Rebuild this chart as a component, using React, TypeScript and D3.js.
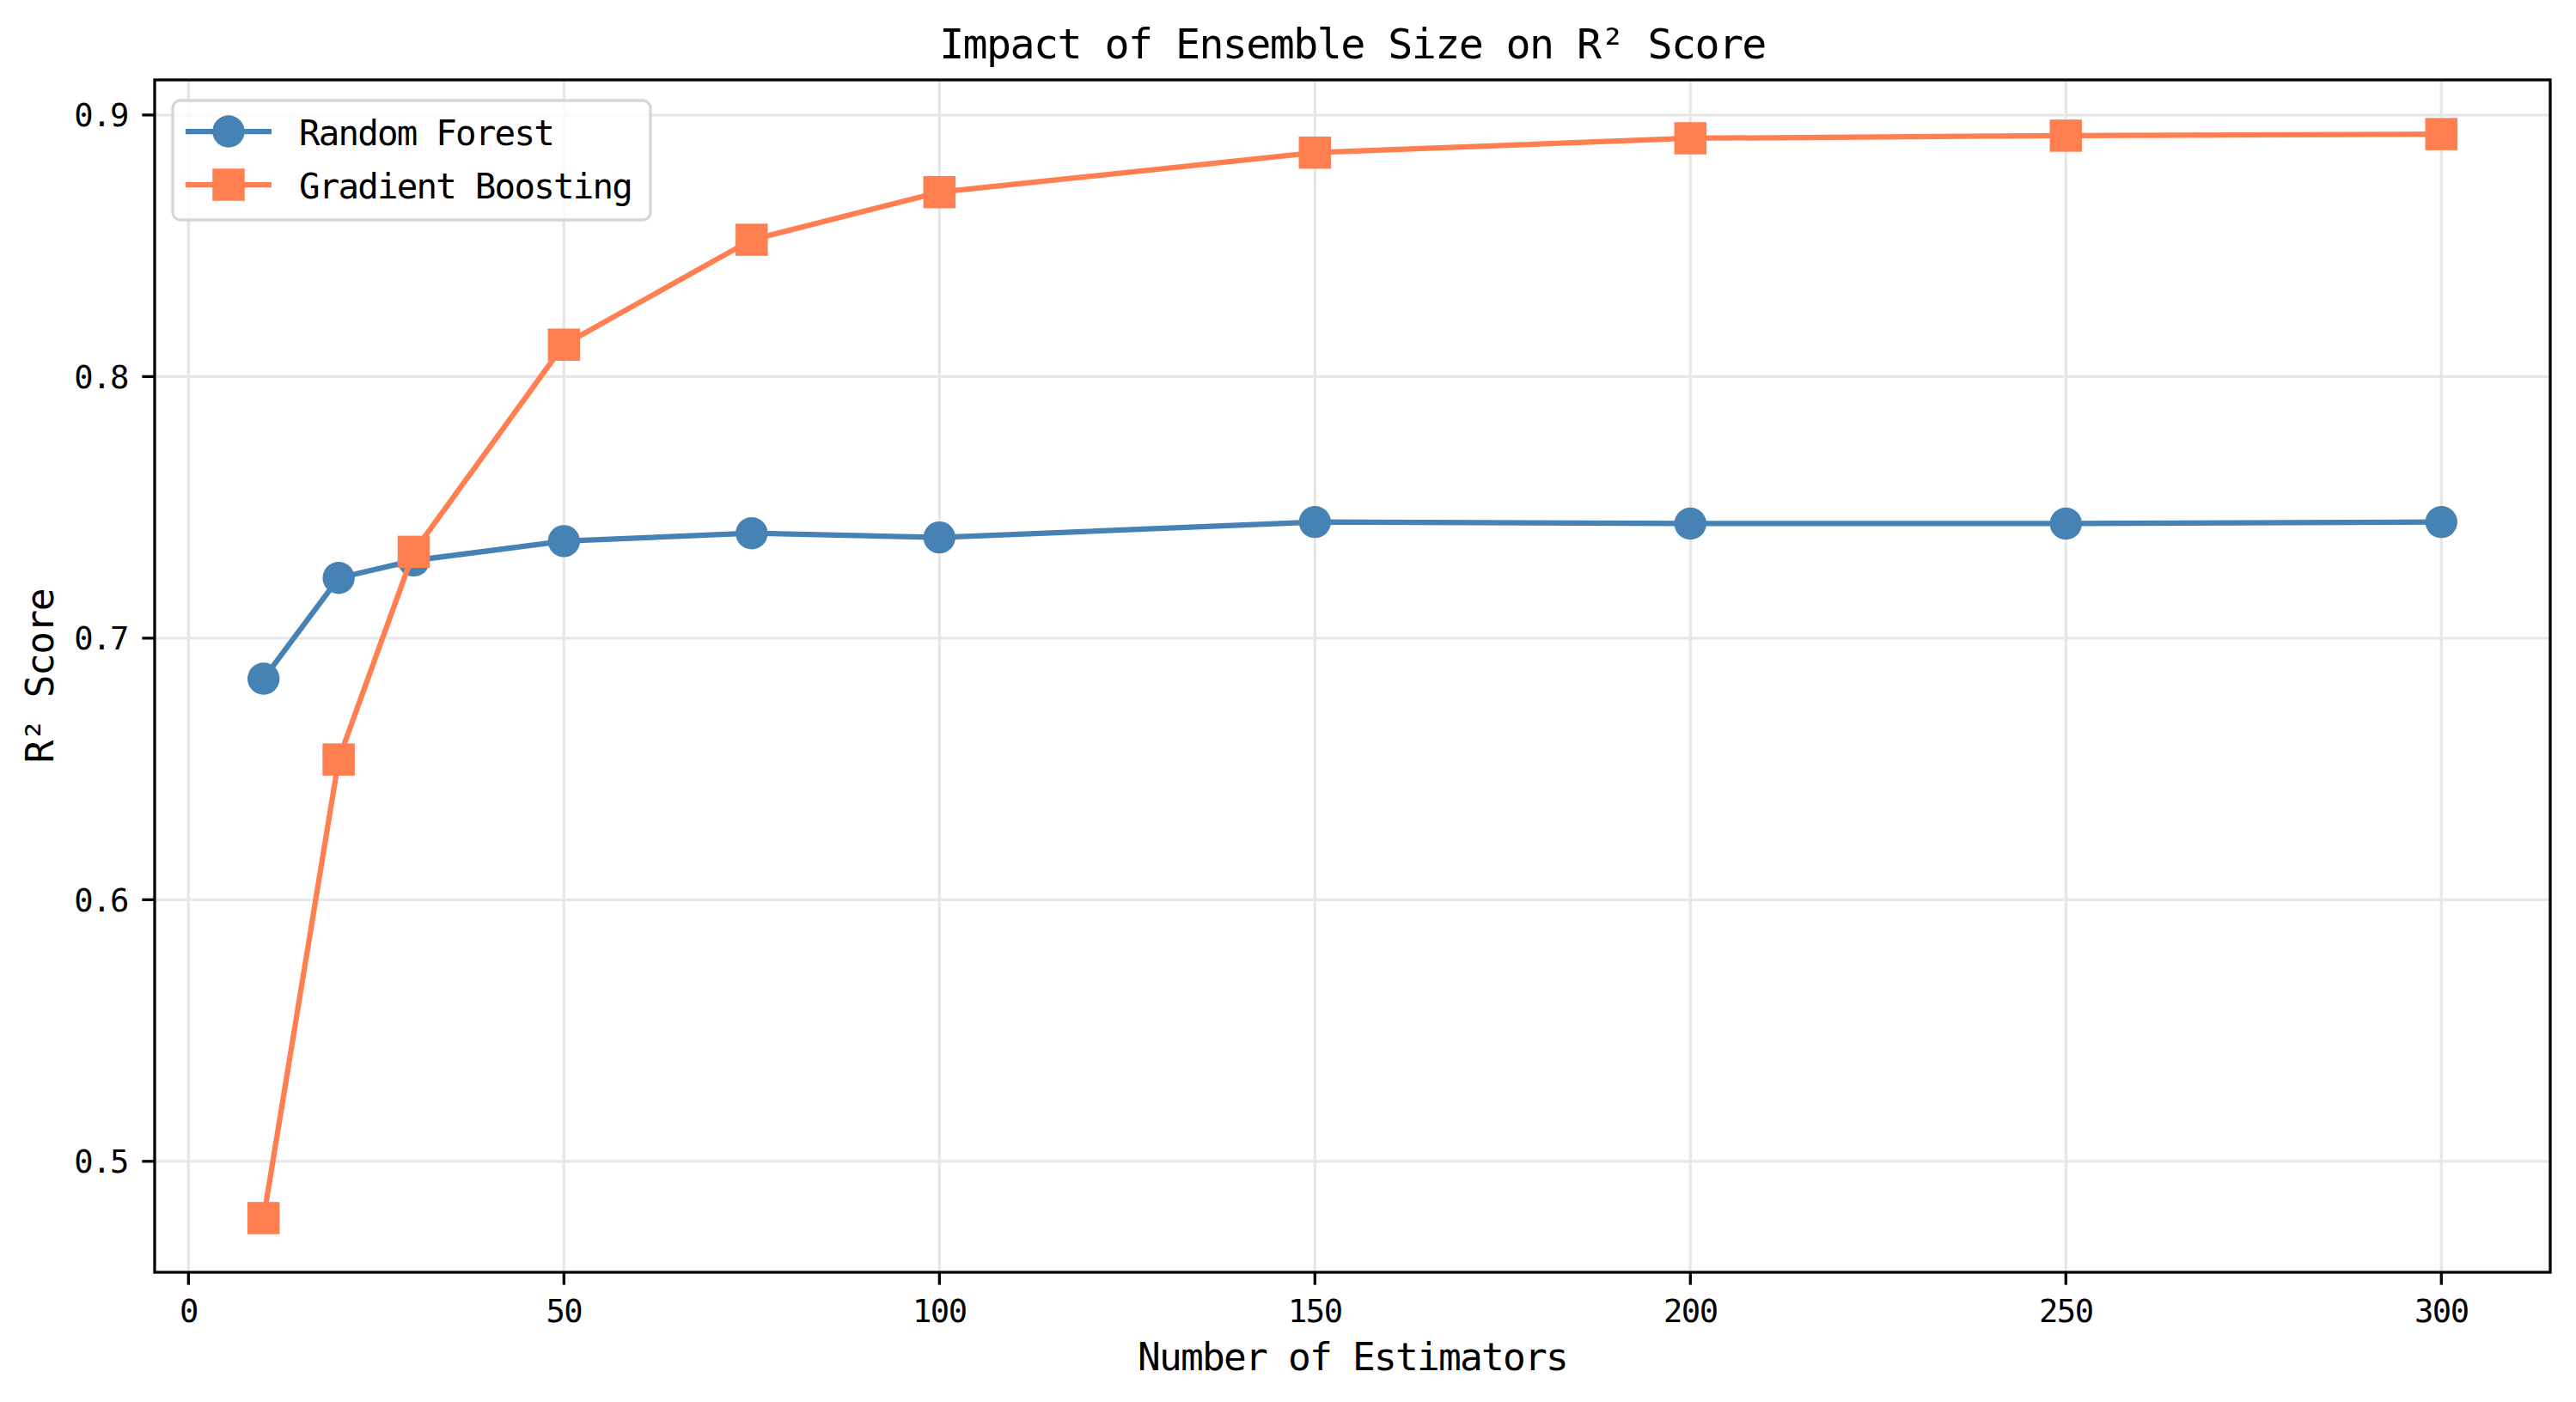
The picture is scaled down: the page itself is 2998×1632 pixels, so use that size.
import React from "react";
import * as d3 from "d3";

const estimators = [10, 20, 30, 50, 75, 100, 150, 200, 250, 300];
const randomForest = [0.6845, 0.723, 0.7297, 0.7371, 0.7401, 0.7385, 0.7444, 0.7438, 0.7438, 0.7444];
const gradientBoosting = [0.4783, 0.6536, 0.733, 0.8122, 0.8523, 0.8705, 0.8856, 0.8911, 0.8921, 0.8927];
const xTicks = [0, 50, 100, 150, 200, 250, 300];
const yTicks = [0.5, 0.6, 0.7, 0.8, 0.9];
const seriesNames = ["Random Forest", "Gradient Boosting"];
const seriesColors = ["#4682B4", "#FF7F50"];

const W = 2998;
const H = 1632;
const M = { left: 180, right: 2968, top: 93, bottom: 1481 };
const FONT = "'DejaVu Sans Mono', monospace";

export default function App() {
  const xMin = d3.min(estimators)!;
  const xMax = d3.max(estimators)!;
  const xPad = (xMax - xMin) * 0.05;
  const all = [...randomForest, ...gradientBoosting];
  const yMin = d3.min(all)!;
  const yMax = d3.max(all)!;
  const yPad = (yMax - yMin) * 0.05;

  const x = d3.scaleLinear().domain([xMin - xPad, xMax + xPad]).range([M.left, M.right]);
  const y = d3.scaleLinear().domain([yMin - yPad, yMax + yPad]).range([M.bottom, M.top]);

  const line = d3
    .line<number>()
    .x((_, i) => x(estimators[i]))
    .y((d) => y(d));

  const lw = 6.25;
  const r = 18.7;
  const sq = 37.5;
  const cx = (M.left + M.right) / 2;
  const cy = (M.top + M.bottom) / 2;

  return (
    <svg
      width={W}
      height={H}
      style={{ position: "absolute", left: 0, top: 0, display: "block", background: "#fff" }}
      fontFamily={FONT}
    >
      <rect x={0} y={0} width={W} height={H} fill="#fff" />
      {/* grid */}
      <g stroke="#e7e7e7" strokeWidth={3.3}>
        {xTicks.map((t) => (
          <line key={"gx" + t} x1={x(t)} x2={x(t)} y1={M.top} y2={M.bottom} />
        ))}
        {yTicks.map((t) => (
          <line key={"gy" + t} x1={M.left} x2={M.right} y1={y(t)} y2={y(t)} />
        ))}
      </g>

      {/* Random Forest */}
      <path d={line(randomForest) || ""} fill="none" stroke={seriesColors[0]} strokeWidth={lw} strokeLinejoin="round" />
      {randomForest.map((v, i) => (
        <circle key={"rf" + i} cx={x(estimators[i])} cy={y(v)} r={r} fill={seriesColors[0]} />
      ))}

      {/* Gradient Boosting */}
      <path d={line(gradientBoosting) || ""} fill="none" stroke={seriesColors[1]} strokeWidth={lw} strokeLinejoin="round" />
      {gradientBoosting.map((v, i) => (
        <rect
          key={"gb" + i}
          x={x(estimators[i]) - sq / 2}
          y={y(v) - sq / 2}
          width={sq}
          height={sq}
          fill={seriesColors[1]}
        />
      ))}

      {/* spines */}
      <rect
        x={M.left}
        y={M.top}
        width={M.right - M.left}
        height={M.bottom - M.top}
        fill="none"
        stroke="#000"
        strokeWidth={3.3}
      />

      {/* x ticks */}
      {xTicks.map((t) => (
        <g key={"xt" + t}>
          <line x1={x(t)} x2={x(t)} y1={M.bottom} y2={M.bottom + 14.6} stroke="#000" strokeWidth={3.3} />
          <text x={x(t)} y={1539} textAnchor="middle" fontSize={37.2} letterSpacing={-1.5} fill="#000">
            {String(t)}
          </text>
        </g>
      ))}

      {/* y ticks */}
      {yTicks.map((t) => (
        <g key={"yt" + t}>
          <line x1={M.left - 14.6} x2={M.left} y1={y(t)} y2={y(t)} stroke="#000" strokeWidth={3.3} />
          <text x={149} y={y(t) + 13.5} textAnchor="end" fontSize={37.2} letterSpacing={-1.5} fill="#000">
            {d3.format(".1f")(t)}
          </text>
        </g>
      ))}

      {/* title */}
      <text x={cx} y={68} textAnchor="middle" fontSize={48.3} letterSpacing={-1.6} fill="#000">
        Impact of Ensemble Size on R² Score
      </text>

      {/* x label */}
      <text x={cx} y={1595} textAnchor="middle" fontSize={44.5} letterSpacing={-1.8} fill="#000">
        Number of Estimators
      </text>

      {/* y label */}
      <text
        transform={`translate(62, ${cy}) rotate(-90)`}
        textAnchor="middle"
        fontSize={44.5}
        letterSpacing={-1.5}
        fill="#000"
      >
        R² Score
      </text>

      {/* legend */}
      <rect x={201} y={117} width={556} height={139} rx={9} ry={9} fill="#fff" fillOpacity={0.8} stroke="#d6d6d6" strokeWidth={3.3} />
      {seriesNames.map((name, i) => {
        const ry = 153 + i * 62;
        return (
          <g key={"lg" + i}>
            <line x1={216} x2={316} y1={ry} y2={ry} stroke={seriesColors[i]} strokeWidth={lw} />
            {i === 0 ? (
              <circle cx={266} cy={ry} r={r} fill={seriesColors[i]} />
            ) : (
              <rect x={266 - sq / 2} y={ry - sq / 2} width={sq} height={sq} fill={seriesColors[i]} />
            )}
            <text x={348} y={ry + 15.5} fontSize={40.8} letterSpacing={-1.8} fill="#000">
              {name}
            </text>
          </g>
        );
      })}
    </svg>
  );
}
